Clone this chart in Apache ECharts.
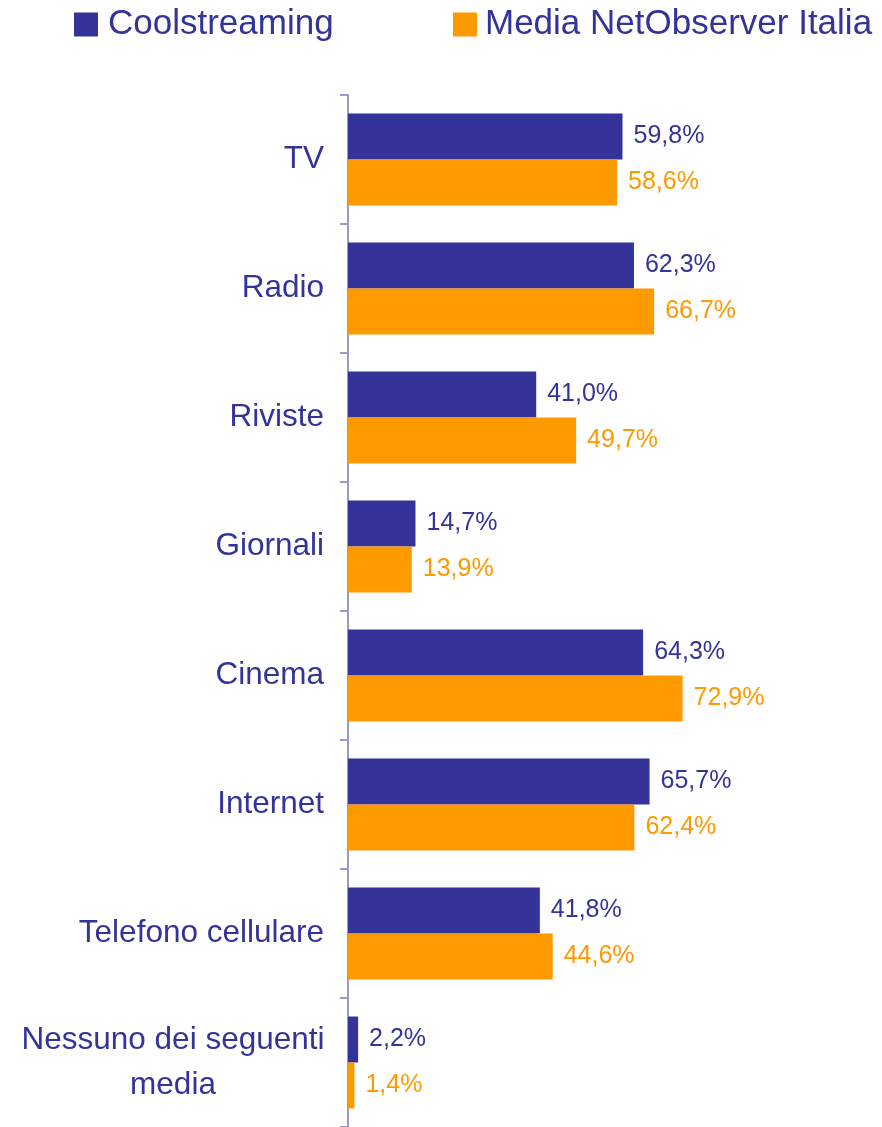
<!DOCTYPE html>
<html>
<head>
<meta charset="utf-8">
<script src="https://cdn.jsdelivr.net/npm/echarts@6/dist/echarts.min.js"></script>
<style>
html,body{margin:0;padding:0;background:#fff;}
#chart{width:882px;height:1127px;}
</style>
</head>
<body>
<div id="chart"></div>
<script>
var categories = ["TV", "Radio", "Riviste", "Giornali", "Cinema", "Internet", "Telefono cellulare", "Nessuno dei seguenti\nmedia"];
var seriesNames = ["Coolstreaming", "Media NetObserver Italia"];
var coolstreaming = [59.8, 62.3, 41.0, 14.7, 64.3, 65.7, 41.8, 2.2];
var netObserver = [58.6, 66.7, 49.7, 13.9, 72.9, 62.4, 44.6, 1.4];

var NAVY = '#333399', ORANGE = '#FF9900', FONT = '"Liberation Sans", Arial, sans-serif';
function fmt(p) { return p.value.toFixed(1).replace('.', ',') + '%'; }

var chart = echarts.init(document.getElementById('chart'), null, {renderer: 'canvas'});
chart.setOption({
  animation: false,
  backgroundColor: '#ffffff',
  legend: [
    {data: [seriesNames[0]], left: 69, top: 2, itemWidth: 24, itemHeight: 24, itemGap: 0,
     icon: 'rect', textStyle: {color: NAVY, fontSize: 35, fontFamily: FONT, padding: [0, 0, 0, 5]}},
    {data: [seriesNames[1]], left: 448, top: 2, itemWidth: 24, itemHeight: 24, itemGap: 0,
     icon: 'rect', textStyle: {color: NAVY, fontSize: 35, fontFamily: FONT, padding: [0, 0, 0, 3]}}
  ],
  grid: {left: 348, top: 95, width: 459, height: 1037, containLabel: false},
  xAxis: {type: 'value', min: 0, max: 100, show: false},
  yAxis: {
    type: 'category', data: categories, inverse: true,
    axisLine: {show: true, lineStyle: {color: '#9999CC', width: 2}},
    axisTick: {show: true, length: 8, lineStyle: {color: '#9999CC', width: 2}},
    axisLabel: {
      color: NAVY, fontSize: 31.5, fontFamily: FONT, margin: 24,
      formatter: function (v) {
        if (v.indexOf('\n') >= 0) {
          return v.split('\n').map(function (s) { return '{c|' + s + '}'; }).join('\n');
        }
        return v;
      },
      rich: {c: {width: 302, align: 'center', color: NAVY, fontSize: 31.5, fontFamily: FONT, lineHeight: 45}}
    },
    splitLine: {show: false}
  },
  series: [
    {name: seriesNames[0], type: 'bar', data: coolstreaming, barWidth: 46, barGap: '0%',
     itemStyle: {color: NAVY},
     label: {show: true, position: 'right', distance: 11, color: NAVY, fontSize: 25, fontFamily: FONT, formatter: fmt}},
    {name: seriesNames[1], type: 'bar', data: netObserver, barWidth: 46, barGap: '0%',
     itemStyle: {color: ORANGE},
     label: {show: true, position: 'right', distance: 11, color: ORANGE, fontSize: 25, fontFamily: FONT, formatter: fmt}}
  ]
});
</script>
</body>
</html>
